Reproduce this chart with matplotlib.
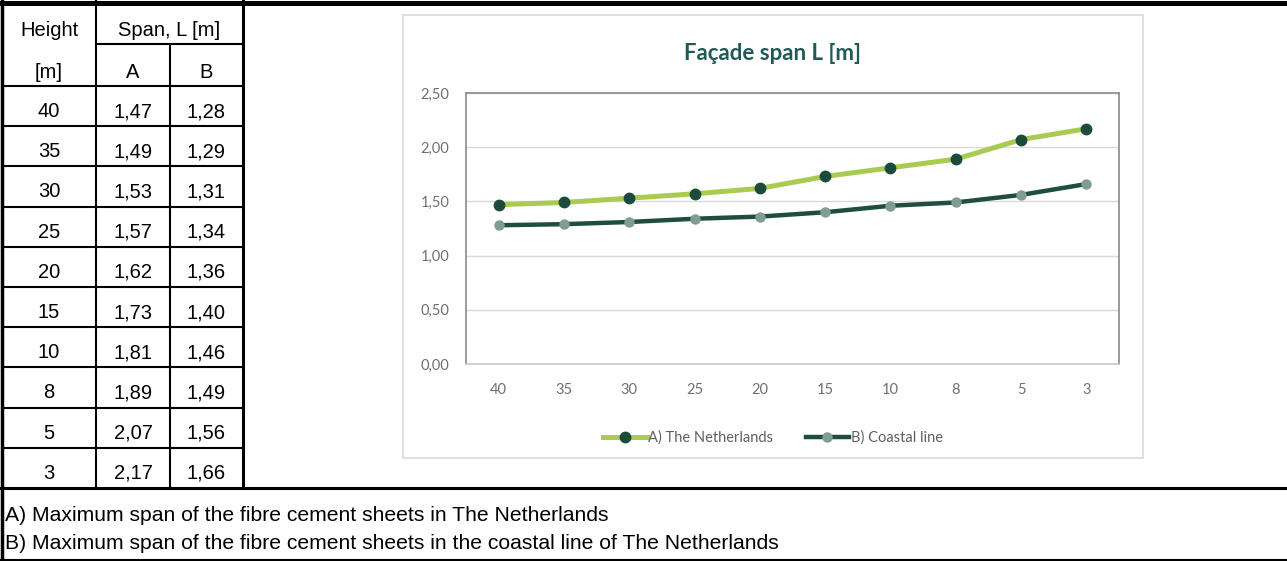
import numpy as np
import matplotlib
matplotlib.use("Agg")
import matplotlib.pyplot as plt
from matplotlib.patches import Rectangle
from matplotlib.ticker import FuncFormatter

# table / chart data
heights = ["40", "35", "30", "25", "20", "15", "10", "8", "5", "3"]
span_a = [1.47, 1.49, 1.53, 1.57, 1.62, 1.73, 1.81, 1.89, 2.07, 2.17]
span_b = [1.28, 1.29, 1.31, 1.34, 1.36, 1.40, 1.46, 1.49, 1.56, 1.66]
series_names = ["A) The Netherlands", "B) Coastal line"]
notes = [
    "A) Maximum span of the fibre cement sheets in The Netherlands",
    "B) Maximum span of the fibre cement sheets in the coastal line of The Netherlands",
]

W, H = 1287, 561
TABLE_FONT = "Liberation Sans"
CHART_FONT = "Lato"


def comma(v):
    return f"{v:.2f}".replace(".", ",")


fig = plt.figure(figsize=(W / 100, H / 100), dpi=100)

# page layer in pixel units (y down) for the table grid and notes
page = fig.add_axes([0, 0, 1, 1])
page.set_xlim(0, W)
page.set_ylim(H, 0)
page.axis("off")


def hline(y, x0, x1, lw=1.5):
    page.plot([x0, x1], [y, y], color="black", lw=lw, solid_capstyle="projecting")


def vline(x, y0, y1, lw=1.5):
    page.plot([x, x], [y0, y1], color="black", lw=lw, solid_capstyle="projecting")


col_edges = [2, 96, 170, 243]
row_top, row_h = 86, 40.2
n_rows = len(heights)
table_bottom = row_top + n_rows * row_h

# outer frame
hline(2.5, 0, W, lw=3.6)
vline(2, 0, H, lw=2.5)
hline(table_bottom, 0, W, lw=2.2)
hline(559.5, 0, W, lw=1.5)

# table grid
hline(44, col_edges[1], col_edges[3])
for i in range(n_rows):
    hline(row_top + i * row_h, col_edges[0], col_edges[3])
vline(col_edges[1], 0, table_bottom)
vline(col_edges[2], 44, table_bottom)
vline(col_edges[3], 0, table_bottom, lw=2.2)

cx = [(col_edges[i] + col_edges[i + 1]) / 2 for i in range(3)]
tkw = dict(ha="center", va="baseline", fontsize=14.5, family=TABLE_FONT, color="black")
page.text(cx[0], 36, "Height", **tkw)
page.text((col_edges[1] + col_edges[3]) / 2, 36, "Span, L [m]", **tkw)
page.text(cx[0], 78, "[m]", **tkw)
page.text(cx[1], 78, "A", **tkw)
page.text(cx[2], 78, "B", **tkw)
for i, (h, a, b) in enumerate(zip(heights, span_a, span_b)):
    yb = row_top + i * row_h + 31
    page.text(cx[0], yb, h, **tkw)
    page.text(cx[1], yb, comma(a), **tkw)
    page.text(cx[2], yb, comma(b), **tkw)

for note, yb in zip(notes, [521, 549]):
    page.text(5, yb, note, ha="left", va="baseline", fontsize=15.2,
              family=TABLE_FONT, color="black")

# chart frame and title
page.add_patch(Rectangle((403, 15), 740, 443, fill=False, ec="#d9d9d9", lw=1.2))
page.text(772, 53, "Façade span L [m]", ha="center", va="center", fontsize=16,
          fontweight="bold", family=CHART_FONT, color="#1f5a55")

# line chart
ax = fig.add_axes([466 / W, 1 - 364 / H, 653 / W, 271 / H])
x = np.arange(len(heights))
ax.plot(x, span_a, color="#a8cc52", lw=3.6, marker="o", ms=7.5,
        mfc="#1c4a3b", mec="#1c4a3b", label=series_names[0], zorder=3)
ax.plot(x, span_b, color="#1f4d40", lw=3.2, marker="o", ms=6.5,
        mfc="#7f9c96", mec="#7f9c96", label=series_names[1], zorder=3)

ax.set_xlim(-0.5, len(heights) - 0.5)
ax.set_ylim(0, 2.5)
ax.set_yticks(np.arange(0, 2.51, 0.5))
ax.yaxis.set_major_formatter(FuncFormatter(lambda v, p: comma(v)))
ax.set_xticks(x, heights)
ax.tick_params(length=0, labelsize=10.5, labelcolor="#707070")
ax.tick_params(axis="y", pad=12)
ax.tick_params(axis="x", pad=14)
for lab in ax.get_xticklabels() + ax.get_yticklabels():
    lab.set_family(CHART_FONT)
ax.grid(axis="y", color="#dadada", lw=1)
ax.set_axisbelow(True)
for side in ["top", "left", "right"]:
    ax.spines[side].set_color("#8a8a8a")
    ax.spines[side].set_linewidth(1.2)
ax.spines["bottom"].set_color("#c8c8c8")
ax.spines["bottom"].set_linewidth(1.2)

fig.legend(loc="center", bbox_to_anchor=(773 / W, 1 - 438 / H), ncol=2,
           frameon=False, handlelength=3.0, columnspacing=2.2, handletextpad=0.1,
           prop={"family": CHART_FONT, "size": 10.5}, labelcolor="#606060")

fig.savefig("out.png", dpi=100)
